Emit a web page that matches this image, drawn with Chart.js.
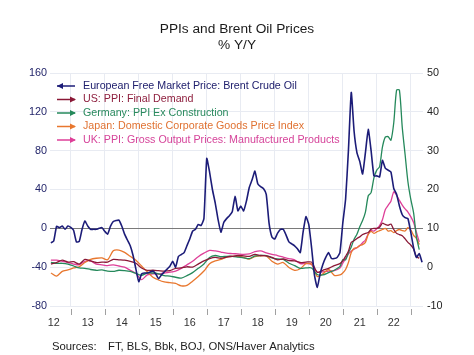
<!DOCTYPE html>
<html>
<head>
<meta charset="utf-8">
<script src="https://cdn.jsdelivr.net/npm/chart.js@4.4.0/dist/chart.umd.min.js"></script>
<style>
  html,body{margin:0;padding:0;background:#fff;}
  canvas{display:block;}
</style>
</head>
<body>
<canvas id="c" width="474" height="355"></canvas>
<script>
// ---------- DATA ----------
const brentMonths = [
 "2012-06","2012-07","2012-08","2012-09","2012-10","2012-11","2012-12",
 "2013-01","2013-02","2013-03","2013-04","2013-05","2013-06","2013-07","2013-08","2013-09","2013-10","2013-11","2013-12",
 "2014-01","2014-02","2014-03","2014-04","2014-05","2014-06","2014-07","2014-08","2014-09","2014-10","2014-11","2014-12",
 "2015-01","2015-02","2015-03","2015-04","2015-05","2015-06","2015-07","2015-08","2015-09","2015-10","2015-11","2015-12",
 "2016-01","2016-02","2016-03","2016-04","2016-05","2016-06","2016-07","2016-08","2016-09","2016-10","2016-11","2016-12",
 "2017-01","2017-02","2017-03","2017-04","2017-05","2017-06","2017-07","2017-08","2017-09","2017-10","2017-11","2017-12",
 "2018-01","2018-02","2018-03","2018-04","2018-05","2018-06","2018-07","2018-08","2018-09","2018-10","2018-11","2018-12",
 "2019-01","2019-02","2019-03","2019-04","2019-05","2019-06","2019-07","2019-08","2019-09","2019-10","2019-11","2019-12",
 "2020-01","2020-02","2020-03","2020-04","2020-05","2020-06","2020-07","2020-08","2020-09","2020-10","2020-11","2020-12",
 "2021-01","2021-02","2021-03","2021-04","2021-05","2021-06","2021-07","2021-08","2021-09","2021-10","2021-11","2021-12",
 "2022-01","2022-02","2022-03","2022-04","2022-05","2022-06","2022-07","2022-08","2022-09","2022-10","2022-11","2022-12",
 "2023-01","2023-02","2023-03","2023-04","2023-05"
];
const brentOil = [
 -15, -13, 2, 0.7, 2.4, -1, 2.4,
 1, -2, -14, -13.5, -1, 7.5, 2.4, -1, -1, -1, 0, 0.7,
 -3, -6, 2, 7, 8, 8.5, 2.4, -6, -12, -18, -28, -42,
 -55, -47, -46, -46, -45, -44, -47, -52, -48, -45, -42, -39,
 -34, -40, -29, -27, -25, -18, -11, -3, -1, 4, 3, 10,
 72, 58, 40, 26, 9, -4, 6, 10, 13, 17, 33, 18,
 23, 18, 28, 42, 50, 59, 46, 43, 41, 35, 5, -9,
 -11, -5, -1, -1, -7, -14, -16, -18, -21, -25, -4, 12,
 4, -20, -48, -61, -47, -37, -30, -25, -31, -31, -30, -25,
 5, 30, 80, 140, 100, 78, 69, 56, 78, 102, 80, 54,
 54, 53, 70, 62, 60, 58, 41, 35, 23, 14, 11, 10,
 -4, -20, -30, -26, -35
];
const ppiMonths = [
 "2012-06","2012-08","2012-10","2012-12",
 "2013-02","2013-04","2013-06","2013-08","2013-10","2013-12",
 "2014-02","2014-04","2014-06","2014-08","2014-10","2014-12",
 "2015-02","2015-04","2015-06","2015-08","2015-10","2015-12",
 "2016-02","2016-04","2016-06","2016-08","2016-10","2016-12",
 "2017-02","2017-04","2017-06","2017-08","2017-10","2017-12",
 "2018-02","2018-04","2018-06","2018-08","2018-10","2018-12",
 "2019-02","2019-04","2019-06","2019-08","2019-10","2019-12",
 "2020-02","2020-04","2020-06","2020-08","2020-10","2020-12",
 "2021-01","2021-02","2021-03","2021-04","2021-05","2021-06","2021-07","2021-08","2021-09","2021-10","2021-11","2021-12",
 "2022-01","2022-02","2022-03","2022-04","2022-05","2022-06","2022-07","2022-08","2022-09","2022-10","2022-11","2022-12",
 "2023-01","2023-02","2023-03","2023-04"
];
const usPPI = [
 0.8, 1.2, 1.8, 1.3,
 1.4, 0.8, 2.0, 1.6, 1.2, 1.3,
 1.3, 2.0, 1.9, 1.8, 1.5, 1.0,
 -0.2, -0.8, -0.8, -0.9, -1.0, -0.9,
 -0.3, -0.2, 0.1, 0.0, 0.8, 1.6,
 2.2, 2.5, 2.3, 2.6, 2.8, 3.0,
 2.9, 2.8, 3.3, 3.0, 2.9, 2.5,
 1.9, 2.1, 1.7, 1.6, 1.2, 1.3,
 1.3, -1.3, -0.8, -0.3, 0.4, 0.9,
 1.6, 2.8, 4.1, 6.4, 6.8, 7.4, 7.8, 8.4, 8.7, 8.9, 9.8, 10.0,
 10.0, 10.3, 11.3, 11.0, 10.8, 11.1, 9.7, 8.7, 8.4, 8.1, 7.3, 6.4,
 5.7, 4.7, 2.7, 2.3
];
const germanyPPI = [
 1.2, 1.0, 1.0, 0.8,
 0.3, -0.2, -0.3, -0.6, -0.8, -0.7,
 -1.0, -1.1, -0.8, -0.9, -1.1, -1.6,
 -2.1, -1.5, -1.5, -1.7, -2.2, -2.3,
 -2.6, -2.8, -2.2, -1.4, -0.3, 0.8,
 2.5, 3.0, 2.7, 2.8, 2.8, 2.6,
 2.4, 2.2, 2.9, 3.0, 3.0, 2.4,
 2.1, 2.0, 1.0, 0.4, -0.3, -0.2,
 -0.2, -1.9, -2.0, -1.4, -0.8, 0.2,
 1.9, 1.9, 3.7, 5.2, 7.2, 8.5, 10.4, 12.0, 14.2, 18.4, 19.2, 23.0,
 25.0, 25.9, 30.9, 33.5, 33.6, 32.7, 37.2, 45.6, 45.6, 36.0, 29.0, 22.0,
 17.5, 14.0, 7.8, 4.5
];
const japanCGPI = [
 -1.5, -2.3, -1.1, -0.7,
 -0.2, 0.1, 1.2, 2.0, 2.3, 2.4,
 1.9, 4.2, 4.4, 3.8, 2.8, 1.8,
 0.3, -1.2, -2.6, -3.3, -3.8, -4.0,
 -4.2, -4.8, -4.7, -3.6, -2.4, -1.0,
 0.9, 1.6, 2.0, 2.6, 2.8, 2.8,
 2.5, 2.1, 2.7, 2.9, 2.9, 1.5,
 0.8, 1.2, -0.1, -0.8, -0.4, 0.9,
 0.8, -2.4, -1.7, -0.6, -2.1, -2.0,
 -1.5, -0.6, 1.2, 3.8, 4.9, 5.0, 5.6, 5.8, 6.4, 8.4, 9.2, 8.7,
 9.1, 9.4, 9.7, 10.0, 9.3, 9.4, 8.9, 9.4, 9.7, 9.4, 9.3, 10.2,
 9.6, 8.2, 7.4, 5.8
];
const ukPPI = [
 1.8, 1.8, 1.5, 1.2,
 0.8, 0.6, 1.5, 1.6, 0.8, 0.6,
 0.4, 0.6, 0.3, 0.0, -0.8, -1.6,
 -3.2, -2.0, -1.7, -1.8, -1.5, -1.3,
 -1.0, -0.3, 0.6, 1.5, 2.7, 3.6,
 4.3, 4.2, 3.9, 3.6, 3.5, 3.4,
 3.3, 3.4, 4.0, 4.2, 3.7, 3.3,
 3.0, 2.6, 2.2, 1.9, 0.9, 1.0,
 0.7, -1.3, -1.2, -1.0, -0.9, -0.2,
 1.0, 2.2, 3.4, 4.1, 4.6, 5.0, 5.5, 6.3, 7.0, 8.6, 9.4, 9.3,
 9.9, 10.7, 12.2, 14.8, 15.9, 17.0, 19.4, 18.5, 17.2, 16.0, 15.0, 14.2,
 13.0, 11.5, 9.0, 6.5
];
const yearLabels = ["12","13","14","15","16","17","18","19","20","21","22"];
const seriesNames = [
 "European Free Market Price: Brent Crude Oil",
 "US: PPI: Final Demand",
 "Germany: PPI Ex Construction",
 "Japan: Domestic Corporate Goods Price Index",
 "UK: PPI: Gross Output Prices: Manufactured Products"
];
const leftTicks = [-80, -40, 0, 40, 80, 120, 160];
const rightTicks = [-10, 0, 10, 20, 30, 40, 50];

// ---------- helpers ----------
function toYear(s){ const p = s.split('-'); return +p[0] + (+p[1]-1)/12; }
function pts(months, vals){ return months.map((m,i)=>({x: toYear(m), y: vals[i]})); }

const colors = {
  brent: '#1c1c78', us: '#8a1836', de: '#25895b', jp: '#e8772e', uk: '#de3f98'
};
const legendText = ['#20206e', '#8e1f3e', '#2a8a5e', '#e07232', '#d6449a'];
const FONT = '"Liberation Sans", Arial, sans-serif';

const decor = {
  id: 'decor',
  beforeDraw(chart){
    const c = chart.ctx;
    c.save(); c.fillStyle = '#fff'; c.fillRect(0,0,chart.width,chart.height); c.restore();
  },
  afterDraw(chart){
    const c = chart.ctx, xs = chart.scales.x, a = chart.chartArea;
    c.save();
    // title
    c.fillStyle = '#1a1a1a';
    c.textAlign = 'center'; c.textBaseline = 'middle';
    c.font = '13.7px ' + FONT;
    c.fillText('PPIs and Brent Oil Prices', 237, 29);
    c.fillText('% Y/Y', 237, 45);
    // tick marks below axis
    c.strokeStyle = '#a0a0a0'; c.lineWidth = 1;
    for (let y = 2013; y <= 2023; y++){
      const px = Math.round(xs.getPixelForValue(y)) + 0.5;
      if (px < a.left || px > a.right) continue;
      c.beginPath(); c.moveTo(px, 309); c.lineTo(px, 315); c.stroke();
    }
    // source
    c.fillStyle = '#222'; c.textAlign = 'left';
    c.font = '11.3px ' + FONT;
    c.fillText('Sources:', 52, 347);
    c.fillText('FT, BLS, Bbk, BOJ, ONS/Haver Analytics', 108, 347);
    // legend
    const rows = [86, 99.5, 113, 126.5, 140];
    const lc = [colors.brent, colors.us, colors.de, colors.jp, colors.uk];
    c.font = '10.7px ' + FONT;
    rows.forEach((ry, i) => {
      c.strokeStyle = lc[i]; c.fillStyle = lc[i]; c.lineWidth = 1.5;
      c.beginPath(); c.moveTo(57, ry); c.lineTo(75, ry); c.stroke();
      c.beginPath();
      if (i === 0){ c.moveTo(57, ry); c.lineTo(63, ry-3); c.lineTo(63, ry+3); }
      else { c.moveTo(76, ry); c.lineTo(70, ry-3); c.lineTo(70, ry+3); }
      c.closePath(); c.fill();
      c.fillStyle = legendText[i];
      c.fillText(seriesNames[i], 83, ry);
    });
    c.restore();
  }
};

const ds = (label, months, vals, color, axis, w, t) => ({
  label, data: pts(months, vals), borderColor: color, backgroundColor: color,
  yAxisID: axis, borderWidth: w, pointRadius: 0, tension: t, fill: false
});

new Chart(document.getElementById('c'), {
  type: 'line',
  data: {
    datasets: [
      ds(seriesNames[0], brentMonths, brentOil, colors.brent, 'y', 1.6, 0.15),
      ds(seriesNames[1], ppiMonths, usPPI, colors.us, 'y1', 1.3, 0.25),
      ds(seriesNames[2], ppiMonths, germanyPPI, colors.de, 'y1', 1.3, 0.25),
      ds(seriesNames[3], ppiMonths, japanCGPI, colors.jp, 'y1', 1.3, 0.25),
      ds(seriesNames[4], ppiMonths, ukPPI, colors.uk, 'y1', 1.3, 0.25)
    ]
  },
  options: {
    responsive: false, animation: false, devicePixelRatio: 1,
    layout: { padding: { top: 73, bottom: 0, left: 0, right: 0 } },
    plugins: { legend: { display: false }, tooltip: { enabled: false }, title: { display: false } },
    scales: {
      x: {
        type: 'linear', min: 2012.39, max: 2023.36,
        afterBuildTicks(s){
          const t = [];
          for (let i = 0; i < yearLabels.length; i++) t.push({value: 2012.5 + i});
          for (let y = 2013; y <= 2023; y++) t.push({value: y});
          t.sort((p,q)=>p.value-q.value);
          s.ticks = t;
        },
        afterFit(s){ s.height = 49; },
        border: { display: false },
        grid: {
          drawTicks: false,
          color: (ctx) => (ctx.tick && Number.isInteger(ctx.tick.value)) ? '#e8ebf2' : 'rgba(0,0,0,0)',
          lineWidth: 1
        },
        ticks: {
          autoSkip: false, maxRotation: 0, padding: 11, color: '#333',
          font: { family: FONT, size: 10.8 },
          callback: (v) => Number.isInteger(v) ? '' : yearLabels[Math.floor(v) - 2012]
        }
      },
      y: {
        position: 'left', min: -80, max: 160,
        afterBuildTicks(s){ s.ticks = leftTicks.map(v => ({value: v})); },
        afterFit(s){ s.width = 50; },
        border: { display: false },
        grid: {
          drawTicks: false,
          color: (ctx) => (ctx.tick && ctx.tick.value === 0) ? '#7a7a7a' : '#e8ebf2',
          lineWidth: 1
        },
        ticks: { padding: 3, color: '#23256a', font: { family: FONT, size: 10.8 } }
      },
      y1: {
        position: 'right', min: -10, max: 50,
        afterBuildTicks(s){ s.ticks = rightTicks.map(v => ({value: v})); },
        afterFit(s){ s.width = 51; },
        border: { display: false },
        grid: { display: false, drawTicks: false },
        ticks: { padding: 4, color: '#222', font: { family: FONT, size: 10.8 } }
      }
    }
  },
  plugins: [decor]
});
</script>
</body>
</html>
